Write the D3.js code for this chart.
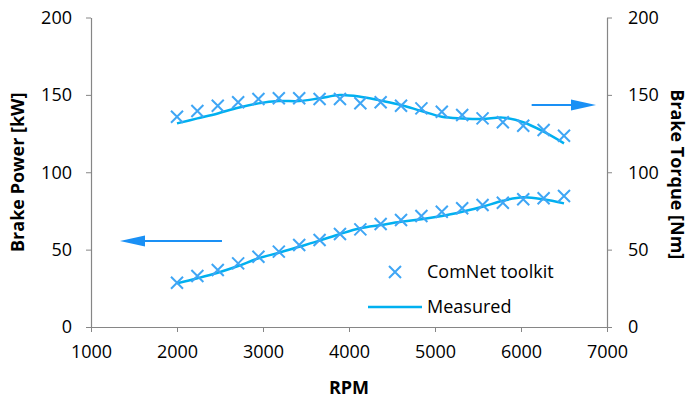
<!DOCTYPE html>
<html>
<head>
<meta charset="utf-8">
<script src="https://cdn.jsdelivr.net/npm/d3@7"></script>
<style>
  body { margin: 0; background: #fff; }
  text { font-family: "Open Sans", sans-serif; }
</style>
</head>
<body>
<div id="chart"></div>
<script>
// Data
const rpm = [2000, 2237, 2474, 2711, 2947, 3184, 3421, 3658, 3895, 4132,
  4368, 4605, 4842, 5079, 5316, 5553, 5789, 6026, 6263, 6500];
const powerToolkit = [28.6, 33, 36.8, 41.1, 45.4, 48.7, 53, 56.2, 60.1, 63.1,
  66.6, 69.1, 71.7, 74.5, 76.7, 78.8, 80.3, 82.5, 83.2, 84.7];
const powerMeasured = [28.2, 31.5, 35.1, 39.4, 44.4, 48, 51.9, 55.8, 60.1, 63.8,
  65.9, 68, 69.6, 71.7, 74.5, 77.7, 81.6, 83.8, 82.5, 79.9];
const torqueToolkit = [135.9, 139.6, 143, 145.2, 147.3, 147.8, 147.8, 147.3, 147.3, 144.6,
  145.2, 143, 141.3, 139.1, 137, 134.8, 132.3, 130.1, 127.3, 123.6];
const torqueMeasured = [131.6, 134.8, 138, 141.7, 144.5, 146, 146, 147.8, 149.9, 148.8,
  146.3, 143.5, 139.6, 135.9, 134.8, 134.4, 135.3, 132.3, 126.2, 118.7];
const xTicks = [1000, 2000, 3000, 4000, 5000, 6000, 7000];
const yTicks = [0, 50, 100, 150, 200];
// annotation arrows: [rpm start, rpm tip, value]
const arrows = [[2523, 1337, 55.6], [6124, 6872, 143.5]];

// Dimensions
const dimensions = { width: 691, height: 402, left: 91, right: 607, top: 17.5, bottom: 327 };

const svg = d3.select("#chart").append("svg")
  .attr("width", dimensions.width)
  .attr("height", dimensions.height);

// Scales
const xScale = d3.scaleLinear().domain([1000, 7000]).range([dimensions.left, dimensions.right]);
const yLeft = d3.scaleLinear().domain([0, 200]).range([dimensions.bottom, dimensions.top]);
const yRight = d3.scaleLinear().domain([0, 200]).range([dimensions.bottom, dimensions.top]);

const axisColor = "#868686";
function styleAxis(g) {
  g.selectAll("path, line").attr("stroke", axisColor);
  g.selectAll("text").attr("fill", "#000").style("font-size", "18px");
}

// Axes
svg.append("g")
  .attr("transform", `translate(0,${dimensions.bottom})`)
  .call(d3.axisBottom(xScale).tickValues(xTicks).tickSize(5).tickSizeOuter(0).tickPadding(13).tickFormat(d3.format("d")))
  .call(styleAxis);

svg.append("g")
  .attr("transform", `translate(${dimensions.left},0)`)
  .call(d3.axisLeft(yLeft).tickValues(yTicks).tickSize(5).tickSizeOuter(0).tickPadding(14))
  .call(styleAxis);

svg.append("g")
  .attr("transform", `translate(${dimensions.right},0)`)
  .call(d3.axisRight(yRight).tickValues(yTicks).tickSize(5).tickSizeOuter(0).tickPadding(16))
  .call(styleAxis);

svg.selectAll(".domain").attr("stroke-width", 1.2);

// Axis titles
svg.append("text")
  .attr("x", (dimensions.left + dimensions.right) / 2)
  .attr("y", 394)
  .attr("text-anchor", "middle")
  .style("font-size", "18px").style("font-weight", "bold")
  .text("RPM");

svg.append("text")
  .attr("transform", `translate(24,${(dimensions.top + dimensions.bottom) / 2}) rotate(-90)`)
  .attr("text-anchor", "middle")
  .style("font-size", "18px").style("font-weight", "bold")
  .text("Brake Power [kW]");

svg.append("text")
  .attr("transform", `translate(671,${(dimensions.top + dimensions.bottom) / 2 + 2}) rotate(90)`)
  .attr("text-anchor", "middle")
  .style("font-size", "18px").style("font-weight", "bold")
  .text("Brake Torque [Nm]");

// Lines
const lineColor = "#00b0f0";
const markerColor = "#3fa6f5";

const lineFor = (scale) => d3.line()
  .x((d, i) => xScale(rpm[i]))
  .y((d) => scale(d))
  .curve(d3.curveCatmullRom.alpha(0.5));

svg.append("path").datum(torqueMeasured)
  .attr("d", lineFor(yRight))
  .attr("fill", "none").attr("stroke", lineColor).attr("stroke-width", 2.5);

svg.append("path").datum(powerMeasured)
  .attr("d", lineFor(yLeft))
  .attr("fill", "none").attr("stroke", lineColor).attr("stroke-width", 2.5);

// Markers
const cross = "M-6,-6L6,6M-6,6L6,-6";
function drawCrosses(values, scale) {
  svg.append("g").selectAll("path")
    .data(values)
    .join("path")
    .attr("transform", (d, i) => `translate(${xScale(rpm[i])},${scale(d)})`)
    .attr("d", cross)
    .attr("stroke", markerColor).attr("stroke-width", 2).attr("fill", "none");
}
drawCrosses(torqueToolkit, yRight);
drawCrosses(powerToolkit, yLeft);

// Arrows
const arrowColor = "#1a90f5";
arrows.forEach(([from, to, v]) => {
  const y = yLeft(v);
  const x0 = xScale(from), x1 = xScale(to);
  const dir = Math.sign(x1 - x0);
  svg.append("line")
    .attr("x1", x0).attr("x2", x1 - dir * 20)
    .attr("y1", y).attr("y2", y)
    .attr("stroke", arrowColor).attr("stroke-width", 2);
  svg.append("path")
    .attr("d", `M${x1},${y}L${x1 - dir * 25},${y - 5.5}L${x1 - dir * 25},${y + 5.5}Z`)
    .attr("fill", arrowColor);
});

// Legend
const legend = svg.append("g");
legend.append("path")
  .attr("transform", "translate(395,272)")
  .attr("d", cross)
  .attr("stroke", markerColor).attr("stroke-width", 2).attr("fill", "none");
legend.append("text")
  .attr("x", 427).attr("y", 272).attr("dy", "0.35em")
  .style("font-size", "18px")
  .text("ComNet toolkit");
legend.append("line")
  .attr("x1", 368).attr("x2", 422).attr("y1", 307).attr("y2", 307)
  .attr("stroke", lineColor).attr("stroke-width", 2.5);
legend.append("text")
  .attr("x", 427).attr("y", 307).attr("dy", "0.35em")
  .style("font-size", "18px")
  .text("Measured");
</script>
</body>
</html>
